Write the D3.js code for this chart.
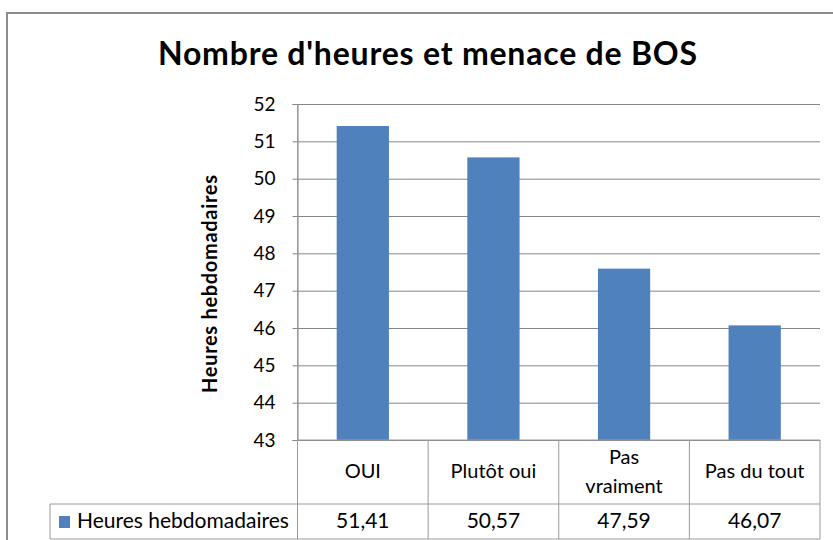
<!DOCTYPE html>
<html>
<head>
<meta charset="utf-8">
<script src="https://cdn.jsdelivr.net/npm/d3@7"></script>
<style>
  body { margin: 0; background: #fff; }
  text { font-family: Lato, "Open Sans", sans-serif; fill: #000; }
</style>
</head>
<body>
<div id="chart"></div>
<script>
const title = "Nombre d'heures et menace de BOS";
const seriesName = "Heures hebdomadaires";
const categories = ["OUI", "Plutôt oui", "Pas vraiment", "Pas du tout"];
const categoryLines = [["OUI"], ["Plutôt oui"], ["Pas", "vraiment"], ["Pas du tout"]];
const values = [51.41, 50.57, 47.59, 46.07];
const yTicks = [43, 44, 45, 46, 47, 48, 49, 50, 51, 52];

const w = 833;
const h = 540;
const plotLeft = 297.5, plotRight = 820, plotTop = 104, plotBottom = 440;
const rowMid = 504, rowBottom = 539, legendLeft = 50;
const barColor = "#4F81BD";
const gridColor = "#868686";

const fr = d3.formatLocale({decimal: ",", thousands: " ", grouping: [3], currency: ["", "€"]});
const fmt = fr.format(".2f");

const svg = d3.select("#chart").append("svg")
  .attr("width", w)
  .attr("height", h);

// outer chart border (runs off the right and bottom)
svg.append("path")
  .attr("d", "M7," + (h + 5) + "V13H" + (w + 5))
  .attr("fill", "none")
  .attr("stroke", "#8c8c8c")
  .attr("stroke-width", 2);

svg.append("text")
  .attr("x", 427.5)
  .attr("y", 65)
  .attr("text-anchor", "middle")
  .attr("font-weight", "bold")
  .attr("font-size", 32)
  .attr("textLength", 539)
  .attr("lengthAdjust", "spacing")
  .text(title);

const y = d3.scaleLinear()
  .domain([43, 52])
  .range([plotBottom, plotTop]);

const x = d3.scaleBand()
  .domain(categories)
  .range([plotLeft, plotRight])
  .padding(0);

// gridlines
const grid = svg.append("g")
  .attr("transform", "translate(" + plotLeft + ",0)")
  .call(d3.axisLeft(y).tickValues(yTicks).tickSize(-(plotRight - plotLeft)).tickFormat(""));
grid.select(".domain").remove();
grid.selectAll("line").attr("stroke", gridColor);

// tick labels + small outer ticks
const yAxis = svg.append("g")
  .attr("transform", "translate(" + plotLeft + ",0)")
  .call(d3.axisLeft(y).tickValues(yTicks).tickSize(5).tickPadding(17).tickFormat(d3.format("d")));
yAxis.select(".domain").attr("stroke", gridColor);
yAxis.selectAll("line").attr("stroke", gridColor);
yAxis.selectAll("text")
  .attr("font-size", 19)
  .attr("font-family", "Lato, sans-serif")
  .attr("fill", "#000");

svg.append("text")
  .attr("transform", "translate(217,284) rotate(-90)")
  .attr("text-anchor", "middle")
  .attr("font-weight", "bold")
  .attr("font-size", 20)
  .attr("textLength", 218)
  .attr("lengthAdjust", "spacing")
  .text(seriesName);

// bars
const bw = x.bandwidth() * 0.4;
svg.selectAll("rect.bar")
  .data(values)
  .enter()
  .append("rect")
  .attr("class", "bar")
  .attr("x", (d, i) => x(categories[i]) + (x.bandwidth() - bw) / 2)
  .attr("y", (d) => y(d))
  .attr("width", bw)
  .attr("height", (d) => y(43) - y(d))
  .attr("fill", barColor);

// data table
const tbl = svg.append("g")
  .attr("stroke", "#9a9a9a")
  .attr("stroke-width", 1)
  .attr("fill", "none");
tbl.append("line").attr("x1", plotLeft).attr("x2", plotRight).attr("y1", plotBottom).attr("y2", plotBottom);
tbl.append("line").attr("x1", legendLeft).attr("x2", plotRight).attr("y1", rowMid).attr("y2", rowMid);
tbl.append("line").attr("x1", legendLeft).attr("x2", plotRight).attr("y1", rowBottom).attr("y2", rowBottom);
tbl.append("line").attr("x1", legendLeft).attr("x2", legendLeft).attr("y1", rowMid).attr("y2", rowBottom);
const edges = categories.map((c) => x(c)).concat([plotRight]);
tbl.selectAll("line.v")
  .data(edges)
  .enter()
  .append("line")
  .attr("class", "v")
  .attr("x1", (d) => d)
  .attr("x2", (d) => d)
  .attr("y1", (d, i) => i === 0 ? plotTop : plotBottom)
  .attr("y2", rowBottom);

// category labels
const catG = svg.selectAll("text.cat")
  .data(categoryLines)
  .enter()
  .append("text")
  .attr("class", "cat")
  .attr("text-anchor", "middle")
  .attr("font-size", 20)
  .attr("x", (d, i) => x(categories[i]) + x.bandwidth() / 2)
  .attr("y", (d) => d.length > 1 ? 464 : 478);
catG.selectAll("tspan")
  .data((d) => d)
  .enter()
  .append("tspan")
  .attr("x", function () { return this.parentNode.getAttribute("x"); })
  .attr("dy", (d, i) => i === 0 ? 0 : 29)
  .text((d) => d);

// values row
svg.selectAll("text.val")
  .data(values)
  .enter()
  .append("text")
  .attr("class", "val")
  .attr("text-anchor", "middle")
  .attr("font-size", 21)
  .attr("x", (d, i) => x(categories[i]) + x.bandwidth() / 2)
  .attr("y", 528)
  .text((d) => fmt(d));

// legend key
svg.append("rect")
  .attr("x", 59)
  .attr("y", 516)
  .attr("width", 11)
  .attr("height", 12)
  .attr("fill", barColor);
svg.append("text")
  .attr("x", 77)
  .attr("y", 528)
  .attr("font-size", 21)
  .text(seriesName);
</script>
</body>
</html>
